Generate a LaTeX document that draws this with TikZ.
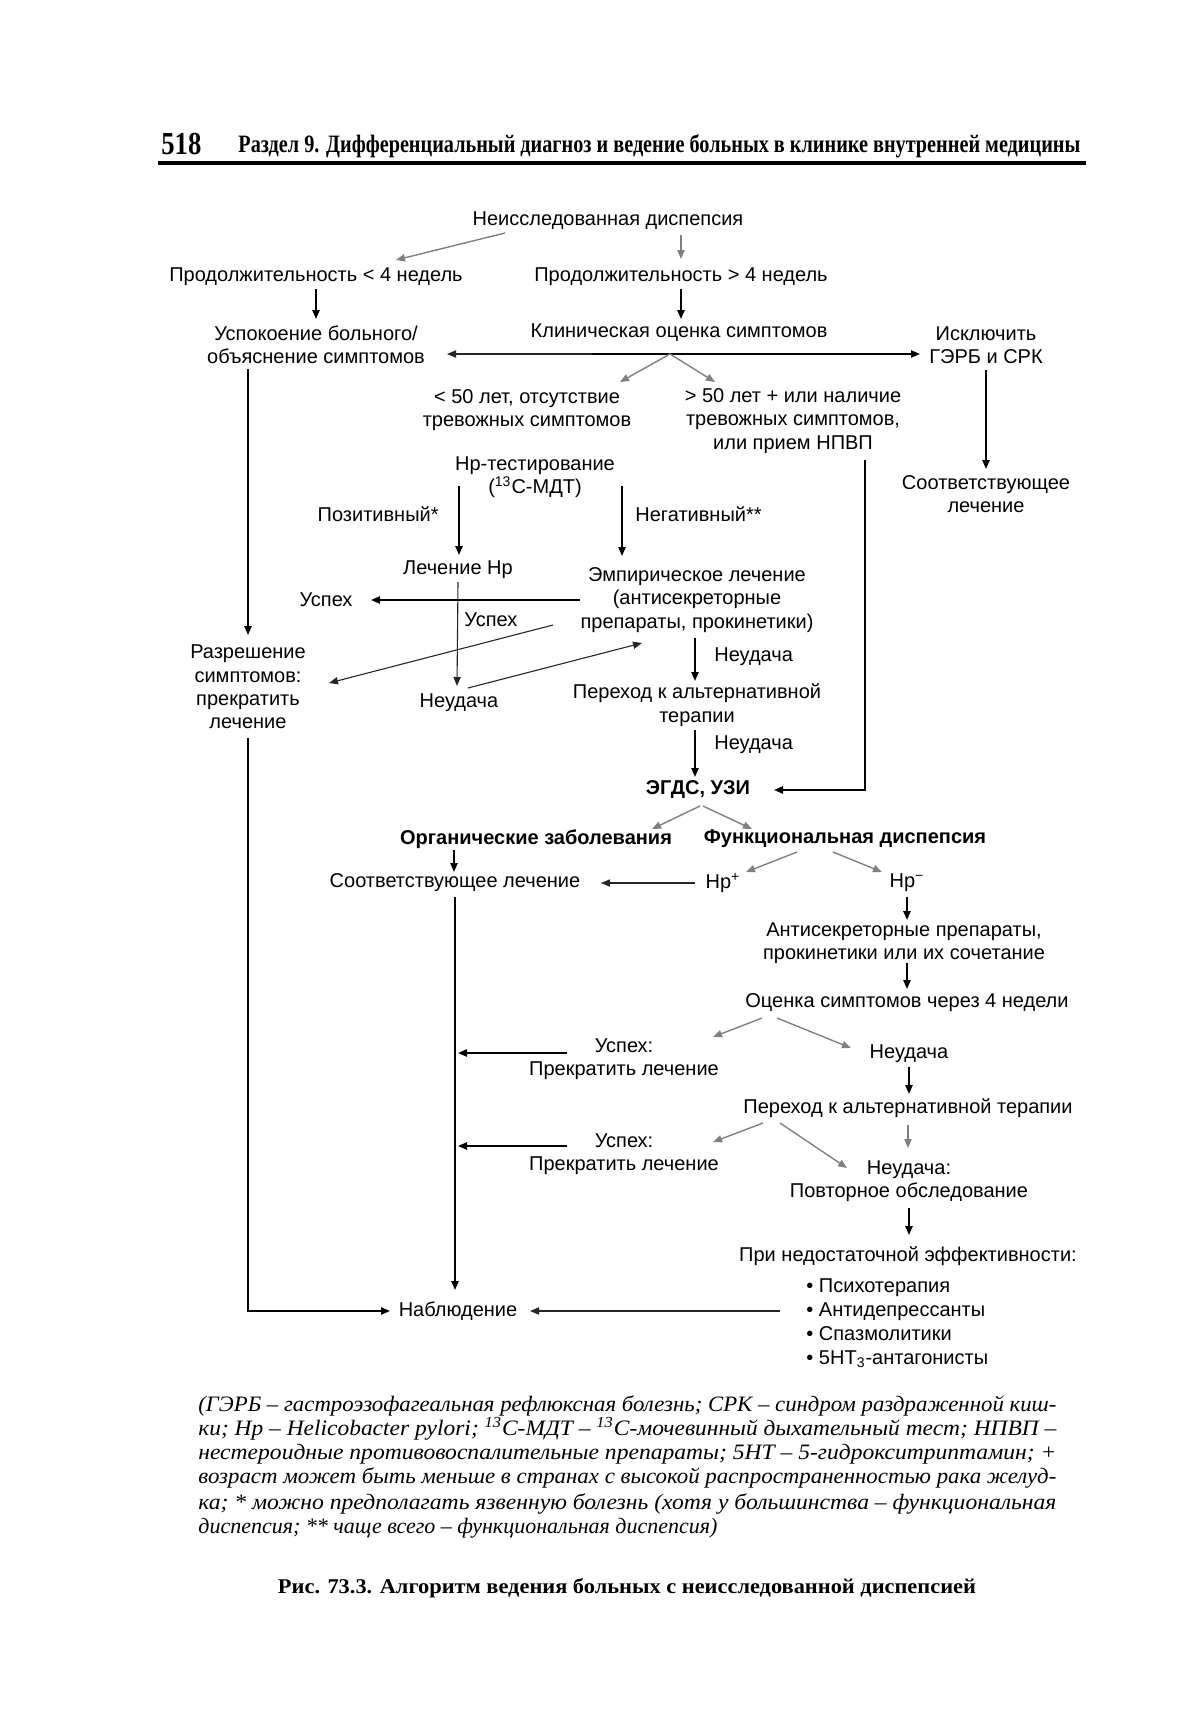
\documentclass[tikz,border=0pt]{standalone}
\usepackage{fontspec}
\setmainfont{Liberation Sans}
\newfontfamily\rmser{Liberation Serif}
\usetikzlibrary{arrows.meta,calc}
\newcommand\dgfont{\fontsize{10}{11.7}\selectfont}
\newcommand\lsfont{\fontsize{10}{12}\selectfont}
\newcommand\fnl[1]{\resizebox{429pt}{\height}{\rmser\itshape\fontsize{11}{12}\selectfont #1}}
\tikzset{
  txt/.style={inner sep=0pt, align=center, font=\dgfont},
  txtb/.style={inner sep=0pt, align=center, font=\dgfont\bfseries},
  fnote/.style={inner sep=0pt, anchor=base west},
  arr/.style={draw=black, line width=0.9pt, -{Triangle[length=4.5pt,width=3.6pt]}},
  tarr/.style={draw=black!85, line width=0.55pt, -{Triangle[length=4.5pt,width=3.6pt]}},
  garr/.style={draw=black!50, line width=0.7pt, -{Triangle[length=4.5pt,width=3.6pt]}},
}
\begin{document}
\begin{tikzpicture}[x=0.5pt,y=-0.5pt]
\fill[white] (0,0) rectangle (1200,1724);
\path[use as bounding box] (0,0) rectangle (1200,1724);

% header
\node[inner sep=0pt, anchor=base west] (pg) at (161,154) {\resizebox{20pt}{\height}{\rmser\bfseries\fontsize{16}{16}\selectfont 518}};
\node[inner sep=0pt, anchor=base west] (hdr) at (238,152) {\resizebox{421pt}{\height}{\rmser\bfseries\fontsize{12.5}{14}\selectfont Раздел 9. Дифференциальный диагноз и ведение больных в клинике внутренней медицины}};
\draw[line width=1.7pt] (158,163) -- (1086,163);

% nodes
\node[txt] (n1) at (608,221) {Неисследованная диспепсия};
\node[txt] (n2) at (316,277) {Продолжительность < 4 недель};
\node[txt] (n3) at (681,277) {Продолжительность > 4 недель};
\node[txt] (n4) at (316,345) {Успокоение больного/\\объяснение симптомов};
\node[txt] (n5) at (679,333) {Клиническая оценка симптомов};
\node[txt] (n6) at (986,345) {Исключить\\ГЭРБ и СРК};
\node[txt] (n7) at (527,410) {< 50 лет, отсутствие\\тревожных симптомов};
\node[txt] (n8) at (793,421) {> 50 лет + или наличие\\тревожных симптомов,\\или прием НПВП};
\node[txt] (n9) at (986,494) {Соответствующее\\лечение};
\node[txt] (n10) at (535,477) {Hp-тестирование\\(\textsuperscript{13}С-МДТ)};
\node[txt, anchor=east] (lpos) at (439,514) {Позитивный*};
\node[txt, anchor=west] (lneg) at (635,514) {Негативный**};
\node[txt] (n11) at (458,570) {Лечение Hp};
\node[txt] (n12) at (697,600) {Эмпирическое лечение\\(антисекреторные\\препараты, прокинетики)};
\node[txt] (n13) at (326,600) {Успех};
\node[txt, anchor=west] (lusp) at (464,620) {Успех};
\node[txt] (n14) at (248,687) {Разрешение\\симптомов:\\прекратить\\лечение};
\node[txt] (n15) at (459,703) {Неудача};
\node[txt] (n16) at (697,705) {Переход к альтернативной\\терапии};
\node[txt, anchor=west] (lneu1) at (714,657) {Неудача};
\node[txt, anchor=west] (lneu2) at (714,745) {Неудача};
\node[txtb] (n17) at (698,790) {ЭГДС, УЗИ};
\node[txtb] (n18) at (536,839) {Органические заболевания};
\node[txtb] (n19) at (845,839) {Функциональная диспепсия};
\node[txt] (n20) at (455,883) {Соответствующее лечение};
\node[txt] (n21) at (723,883) {Hp\textsuperscript{+}};
\node[txt] (n22) at (907,883) {Hp\textsuperscript{−}};
\node[txt] (n23) at (904,943) {Антисекреторные препараты,\\прокинетики или их сочетание};
\node[txt] (n24) at (907,1003) {Оценка симптомов через 4 недели};
\node[txt] (n25) at (624,1059) {Успех:\\Прекратить лечение};
\node[txt] (n26) at (909,1054) {Неудача};
\node[txt] (n27) at (908,1108) {Переход к альтернативной терапии};
\node[txt] (n28) at (624,1154) {Успех:\\Прекратить лечение};
\node[txt] (n29) at (909,1181) {Неудача:\\Повторное обследование};
\node[txt] (n30) at (908,1256) {При недостаточной эффективности:};
\node[txt, align=left, anchor=west, font=\lsfont] (n31) at (806,1323) {• Психотерапия\\• Антидепрессанты\\• Спазмолитики\\• 5HT\textsubscript{3}-антагонисты};
\node[txt] (n32) at (458,1311) {Наблюдение};

% connectors
\draw[garr] ($(n1)+(-103,12)$) -- ($(n2)+(80,-17)$);
\draw[garr] ($(n1)+(73,14)$) -- ($(n3)+(0,-18)$);
\draw[arr] ($(n2)+(0,12)$) -- ($(n4)+(0,-26)$);
\draw[arr] ($(n3)+(0,12)$) -- ($(n5)+(2,-14)$);
\coordinate (br) at ($(n5)+(-9,21)$);
\draw[tarr] (br) -- ($(n4)+(131,9)$);
\draw[arr] ($(n5)+(-87,21)$) -- ($(n6)+(-66,9)$);
\draw[garr] (br) -- ($(n7)+(93,-28)$);
\draw[garr] (br) -- ($(n8)+(-78,-39)$);
\draw[arr] ($(n6)+(0,25)$) -- ($(n9)+(0,-25)$);
\draw[arr] ($(n8)+(72,39)$) |- ($(n17)+(76,0)$);
\draw[arr] ($(n10)+(-76,9)$) -- ($(n11)+(1,-15)$);
\draw[arr] ($(n10)+(87,9)$) -- ($(n12)+(-75,-44)$);
\draw[arr] ($(n12)+(-117,0)$) -- ($(n13)+(45,0)$);
\draw[tarr] ($(n11)+(0,12)$) -- ($(n15)+(-2,-17)$);
\draw[tarr] ($(n12)+(-144,25)$) -- ($(n14)+(81,-4)$);
\draw[tarr] ($(n15)+(9,-15)$) -- ($(n12)+(-55,43)$);
\draw[arr] ($(n4)+(-68,24)$) -- ($(n14)+(0,-52)$);
\draw[arr] ($(n14)+(0,51)$) |- ($(n32)+(-68,0)$);
\draw[arr] ($(n12)+(-2,38)$) -- ($(n16)+(-2,-24)$);
\draw[arr] ($(n16)+(-2,25)$) -- ($(n17)+(-3,-13)$);
\draw[garr] ($(n17)+(2,16)$) -- ($(n18)+(116,-10)$);
\draw[garr] ($(n17)+(5,16)$) -- ($(n19)+(-93,-10)$);
\draw[arr] ($(n18)+(-82,11)$) -- ($(n20)+(-1,-11)$);
\draw[garr] ($(n19)+(-48,13)$) -- ($(n21)+(23,-11)$);
\draw[garr] ($(n19)+(-12,13)$) -- ($(n22)+(-25,-11)$);
\draw[tarr] ($(n21)+(-28,0)$) -- ($(n20)+(146,0)$);
\draw[arr] ($(n22)+(0,14)$) -- ($(n23)+(3,-23)$);
\draw[arr] ($(n23)+(3,20)$) -- ($(n24)+(0,-14)$);
\draw[garr] ($(n24)+(-145,15)$) -- ($(n25)+(89,-22)$);
\draw[garr] ($(n24)+(-130,15)$) -- ($(n26)+(-58,-6)$);
\draw[arr] ($(n20)+(0,14)$) -- ($(n32)+(-3,-21)$);
\coordinate (j1) at ($(n20)+(3,170)$);
\coordinate (j2) at ($(n20)+(3,263)$);
\draw[arr] ($(n25)+(-57,-6)$) -- (j1);
\draw[arr] ($(n26)+(0,13)$) -- ($(n27)+(1,-14)$);
\draw[garr] ($(n27)+(-145,15)$) -- ($(n28)+(89,-12)$);
\draw[garr] ($(n27)+(-128,15)$) -- ($(n29)+(-62,-13)$);
\draw[garr] ($(n27)+(0,17)$) -- ($(n29)+(-1,-33)$);
\draw[arr] ($(n28)+(-57,-8)$) -- (j2);
\draw[arr] ($(n29)+(0,27)$) -- ($(n30)+(1,-21)$);
\draw[tarr] ($(n31.west)+(-26,-12)$) -- ($(n32)+(72,0)$);

% footnote
\node[fnote] (fn1) at (198,1411) {\fnl{(ГЭРБ – гастроэзофагеальная рефлюксная болезнь; СРК – синдром раздраженной киш-}};
\node[fnote] (fn2) at (198,1435) {\fnl{ки; Hp – Helicobacter pylori; \textsuperscript{13}С-МДТ – \textsuperscript{13}С-мочевинный дыхательный тест; НПВП –}};
\node[fnote] (fn3) at (198,1459) {\fnl{нестероидные противовоспалительные препараты; 5HT – 5-гидрокситриптамин; +}};
\node[fnote] (fn4) at (198,1483) {\fnl{возраст может быть меньше в странах с высокой распространенностью рака желуд-}};
\node[fnote] (fn5) at (198,1509) {\fnl{ка; * можно предполагать язвенную болезнь (хотя у большинства – функциональная}};
\node[fnote] (fn6) at (198,1533) {\rmser\itshape\fontsize{11}{12}\selectfont диспепсия; ** чаще всего – функциональная диспепсия)};

% caption
\node[inner sep=0pt, anchor=base] (cap) at (627,1593) {\resizebox{349pt}{\height}{\rmser\bfseries\fontsize{10.5}{12}\selectfont Рис. 73.3. Алгоритм ведения больных с неисследованной диспепсией}};
\end{tikzpicture}
\end{document}
